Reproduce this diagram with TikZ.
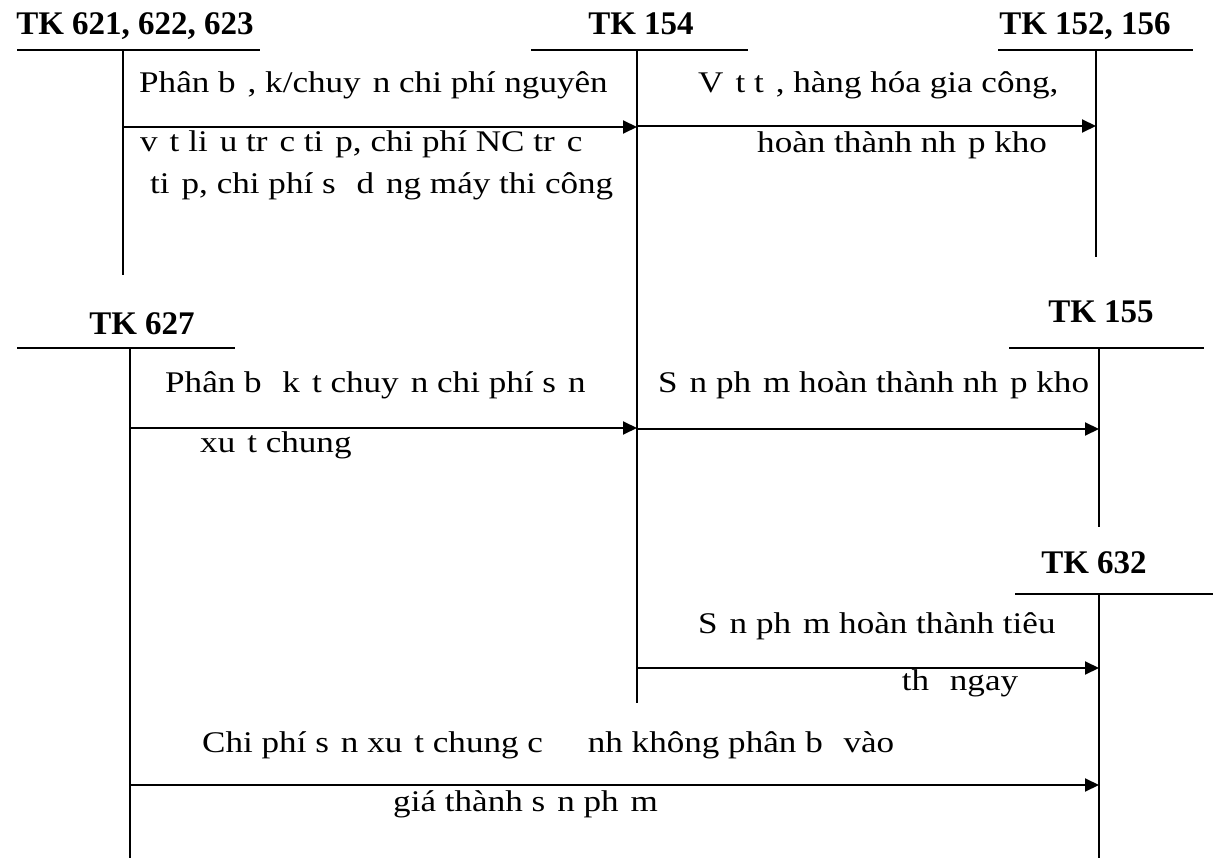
\documentclass[tikz,border=0pt]{standalone}
\usepackage{fontspec}
\setmainfont{Liberation Serif}
\newfontfamily\tnr{Liberation Serif}
\newfontfamily\tnrw{Liberation Serif}[FakeStretch=1.17]
\usetikzlibrary{arrows.meta}
\newcommand\gp{\hspace{0.4em}}
\newcommand\lblfont{\tnrw\fontsize{30}{36}\selectfont}
\newcommand\ttlfont{\tnr\fontsize{33}{40}\selectfont\bfseries}
\begin{document}
\begin{tikzpicture}[x=1pt,y=-1pt,
  ln/.style={line width=2pt},
  arr/.style={line width=2pt,-{Triangle[length=14pt,width=13pt]}},
  ttl/.style={inner sep=0pt,anchor=base,font=\ttlfont},
  lbl/.style={inner sep=0pt,anchor=base west,font=\lblfont}]
\useasboundingbox (0,0) rectangle (1213,858);
% T-account titles
\node[ttl] (t621) at (135,35) {TK 621, 622, 623};
\node[ttl] (t154) at (641,35) {TK 154};
\node[ttl] (t152) at (1085,35) {TK 152, 156};
\node[ttl] (t627) at (142,335) {TK 627};
\node[ttl] (t155) at (1101,323) {TK 155};
\node[ttl] (t632) at (1094,573) {TK 632};
% T-account lines
\draw[ln] (17,50) -- (260,50);   \draw[ln] (123,50) -- (123,275);
\draw[ln] (531,50) -- (748,50);  \draw[ln] (637,50) -- (637,703);
\draw[ln] (998,50) -- (1193,50); \draw[ln] (1096,50) -- (1096,257);
\draw[ln] (17,348) -- (235,348); \draw[ln] (130,348) -- (130,858);
\draw[ln] (1009,348) -- (1204,348); \draw[ln] (1099,348) -- (1099,527);
\draw[ln] (1015,594) -- (1213,594); \draw[ln] (1099,594) -- (1099,858);
% connector end points
\coordinate (s1) at (123,127); \coordinate (e1) at (637,127);
\coordinate (s2) at (637,126); \coordinate (e2) at (1096,126);
\coordinate (s3) at (130,428); \coordinate (e3) at (637,428);
\coordinate (s4) at (637,429); \coordinate (e4) at (1099,429);
\coordinate (s5) at (637,668); \coordinate (e5) at (1099,668);
\coordinate (s6) at (130,785); \coordinate (e6) at (1099,785);
\draw[arr] (s1) -- (e1);
\draw[arr] (s2) -- (e2);
\draw[arr] (s3) -- (e3);
\draw[arr] (s4) -- (e4);
\draw[arr] (s5) -- (e5);
\draw[arr] (s6) -- (e6);
% labels
\node[lbl] (l1a) at (139,93) {Phân b\gp, k/chuy\gp{}n chi phí nguyên};
\node[lbl] (l1b) at (140,152) {v\gp{}t li\gp{}u tr\gp{}c ti\gp{}p, chi phí NC tr\gp{}c};
\node[lbl] (l1c) at (150,194) {ti\gp{}p, chi phí s\gp{} d\gp{}ng máy thi công};
\node[lbl] (l2a) at (698,93) {V\gp{}t t\gp, hàng hóa gia công,};
\node[lbl] (l2b) at (757,153) {hoàn thành nh\gp{}p kho};
\node[lbl] (l3a) at (165,393) {Phân b\gp{} k\gp{}t chuy\gp{}n chi phí s\gp{}n};
\node[lbl] (l3b) at (200,452) {xu\gp{}t chung};
\node[lbl] (l4a) at (658,393) {S\gp{}n ph\gp{}m hoàn thành nh\gp{}p kho};
\node[lbl] (l5a) at (698,633) {S\gp{}n ph\gp{}m hoàn thành tiêu};
\node[lbl,anchor=base] (l5b) at (960,690) {th\gp{} ngay};
\node[lbl] (l6a) at (202,752) {Chi phí s\gp{}n xu\gp{}t chung c\gp{} \gp\gp{}nh không phân b\gp{} vào};
\node[lbl] (l6b) at (393,811) {giá thành s\gp{}n ph\gp{}m};
\end{tikzpicture}
\end{document}
